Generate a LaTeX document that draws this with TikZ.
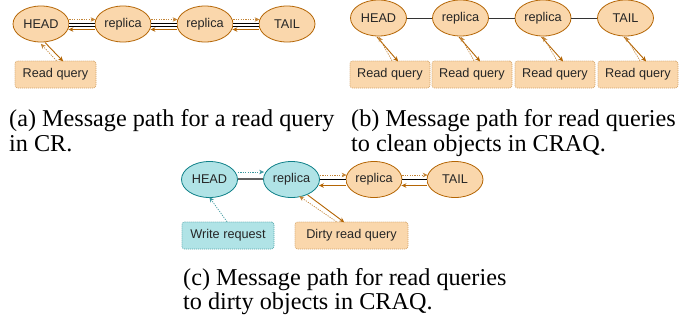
\documentclass[tikz,border=0pt]{standalone}
\usepackage{fontspec}
\setmainfont{Liberation Serif}
\setsansfont{Liberation Sans}
\usetikzlibrary{shapes.geometric,arrows.meta,calc}
\definecolor{ofill}{HTML}{FAD7AC}
\definecolor{odraw}{HTML}{B46504}
\definecolor{tfill}{HTML}{B0E3E6}
\definecolor{tdraw}{HTML}{0E8088}
\definecolor{linkgray}{HTML}{606060}
\tikzset{
  ell/.style={ellipse, draw=odraw, fill=ofill, line width=0.8pt,
    minimum width=56pt, minimum height=36pt, inner sep=0pt,
    font=\sffamily\fontsize{12.7}{15}\selectfont, text=black!85},
  tell/.style={ell, draw=tdraw, fill=tfill},
  qbox/.style={rectangle, rounded corners=2.5pt, draw=odraw!60, fill=ofill,
    dash pattern=on 1pt off 1pt, line width=0.6pt, minimum height=27pt,
    inner sep=0pt, font=\sffamily\fontsize{12.7}{15}\selectfont, text=black!85},
  tbox/.style={qbox, draw=tdraw!70, fill=tfill},
  dlink/.style={draw=black, line width=0.8pt, double=white, double distance=2pt},
  slink/.style={draw=black!80, line width=0.9pt},
  glink/.style={draw=linkgray, line width=1.6pt},
  msg/.style={draw=odraw, line width=0.9pt, -{Stealth[length=5pt,width=4.5pt]}, shorten >=-1pt},
  dmsg/.style={draw=odraw!80, line width=0.7pt, dash pattern=on 1.2pt off 1.2pt,
    -{Stealth[length=5pt,width=4.5pt]}, shorten >=-1pt},
  tmsg/.style={dmsg, draw=tdraw!80},
  captxt/.style={anchor=base west, inner sep=0pt, font=\fontsize{24.2}{25}\selectfont},
}
\begin{document}
\begin{tikzpicture}[x=1pt,y=-1pt]
\fill[white] (0,0) rectangle (694,322);
\useasboundingbox (0,0) rectangle (694,322);

% ---------- (a) ----------
\node[ell] (ha) at (41,24) {HEAD};
\node[ell] (ra1) at (123,24) {replica};
\node[ell] (ra2) at (205,24) {replica};
\node[ell] (ta) at (287,24) {TAIL};
\node[qbox, minimum width=81pt] (qa) at (55.5,74.5) {Read query};
\foreach \x/\y in {ha/ra1, ra1/ra2, ra2/ta}{
  \draw[dmsg] ($(\x.east)+(0,-4.5)$) -- ($(\y.west)+(0,-4.5)$);
  \draw[dlink] ($(\x.east)+(0,1)$) -- ($(\y.west)+(0,1)$);
  \draw[msg] ($(\y.west)+(0,5.5)$) -- ($(\x.east)+(0,5.5)$);
}
\draw[msg] ($(ha)+(4,18.5)$) -- ($(qa.north)+(7,0)$);
\draw[dmsg] ($(qa.north)+(1,0)$) -- ($(ha)+(0.5,20.5)$);

% ---------- (b) ----------
\node[ell] (hb) at (378.5,18) {HEAD};
\node[ell] (rb1) at (460.5,18) {replica};
\node[ell] (rb2) at (543,18) {replica};
\node[ell] (tb) at (625.5,18) {TAIL};
\node[qbox, minimum width=80pt] (qb1) at (390,74.5) {Read query};
\node[qbox, minimum width=80pt] (qb2) at (472,74.5) {Read query};
\node[qbox, minimum width=80pt] (qb3) at (555,74.5) {Read query};
\node[qbox, minimum width=80pt] (qb4) at (638,74.5) {Read query};
\draw[slink] (hb) -- (rb1);
\draw[slink] (rb1) -- (rb2);
\draw[slink] (rb2) -- (tb);
\foreach \e/\q in {hb/qb1, rb1/qb2, rb2/qb3, tb/qb4}{
  \draw[msg] ($(\e)+(-1.5,19)$) -- ($(\q.north)+(7.5,0)$);
  \draw[dmsg] ($(\q.north)+(2,0)$) -- ($(\e)+(0.5,19.5)$);
}

% ---------- (c) ----------
\node[tell] (hc) at (209.5,179.5) {HEAD};
\node[tell] (rc1) at (291.5,179.5) {replica};
\node[ell] (rc2) at (374,179.5) {replica};
\node[ell] (tc) at (455,179.5) {TAIL};
\node[tbox, minimum width=92pt] (wr) at (228,235.5) {Write request};
\node[qbox, minimum width=113pt] (dr) at (351.5,235.5) {Dirty read query};
\draw[tmsg] ($(hc.east)+(0,-7.5)$) -- ($(rc1.west)+(0,-7.5)$);
\draw[glink] ($(hc.east)+(0,-0.5)$) -- ($(rc1.west)+(0,-0.5)$);
\foreach \x/\y in {rc1/rc2, rc2/tc}{
  \draw[dmsg] ($(\x.east)+(0,-4.5)$) -- ($(\y.west)+(0,-4.5)$);
  \draw[dlink] ($(\x.east)+(0,1)$) -- ($(\y.west)+(0,1)$);
  \draw[msg] ($(\y.west)+(0,6)$) -- ($(\x.east)+(0,6)$);
}
\draw[tmsg] ($(wr.north)+(-1,0)$) -- ($(hc)+(0.5,18.5)$);
\draw[msg] ($(rc1)+(16.2,15.5)$) -- ($(dr.north)+(-8,0)$);
\draw[dmsg] ($(dr.north)+(-15,0)$) -- ($(rc1)+(8.5,17.2)$);

% ---------- captions ----------
\node[captxt] (capa1) at (9,126.7) {(a) Message path for a read query};
\node[captxt] (capa2) at (9,151.7) {in CR.};
\node[captxt] (capb1) at (351,126.7) {(b) Message path for read queries};
\node[captxt] (capb2) at (351,151.7) {to clean objects in CRAQ.};
\node[captxt] (capc1) at (183,285) {(c) Message path for read queries};
\node[captxt] (capc2) at (183,309) {to dirty objects in CRAQ.};
\end{tikzpicture}
\end{document}
